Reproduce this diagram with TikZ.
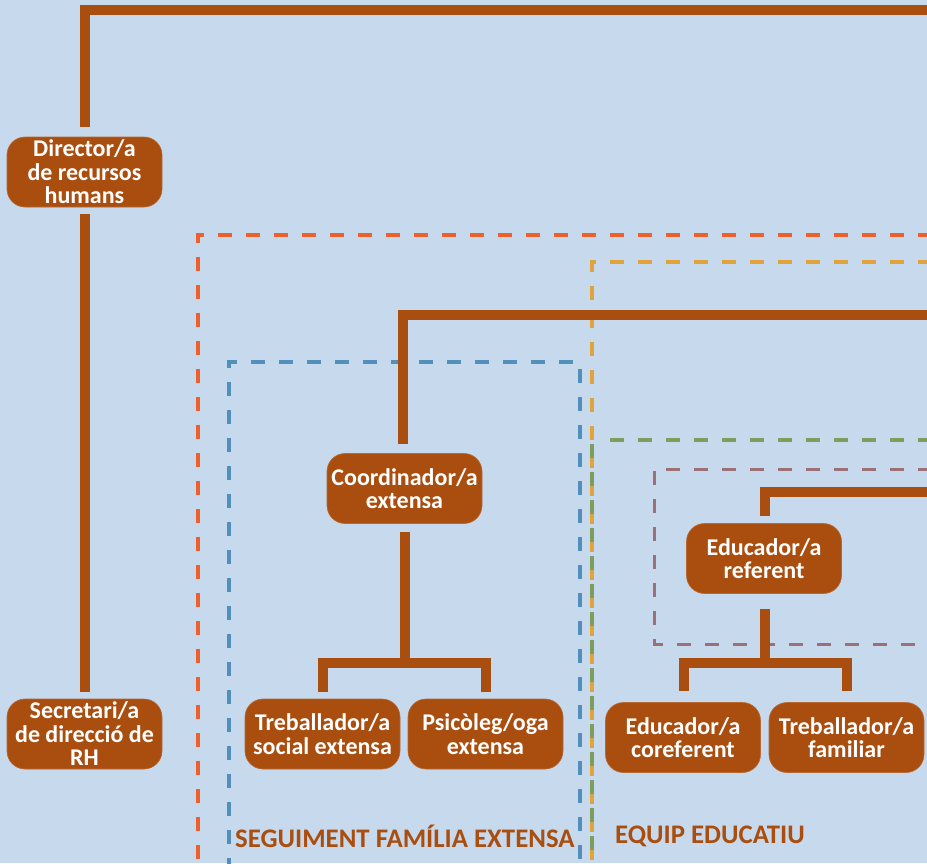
\documentclass[tikz,border=0pt]{standalone}
\usepackage{fontspec}
\setmainfont{Carlito}
\definecolor{bg}{HTML}{C7D9ED}
\definecolor{brn}{HTML}{AA4E0F}
\definecolor{orng}{HTML}{EE5F2B}
\definecolor{blu}{HTML}{528FBA}
\definecolor{yel}{HTML}{E2A43A}
\definecolor{grn}{HTML}{7E9E5D}
\definecolor{mauv}{HTML}{9B7077}
\begin{document}
\begin{tikzpicture}[x=1pt,y=-1pt,
  box/.style={draw=brn!85!white, line width=0.6pt, fill=brn, rounded corners=18pt,
    minimum width=155pt, minimum height=70pt, inner sep=0pt, align=center,
    text=white, font=\bfseries\fontsize{24}{23.5}\selectfont},
  conn/.style={draw=brn, line width=10pt, line join=miter},
  dsh/.style={line width=#1, dash pattern=on 14pt off 14pt},
  grp/.style={text=brn, font=\bfseries\fontsize{26.8}{28}\selectfont, anchor=west, inner sep=0pt}
]
\useasboundingbox (0,0) rectangle (927,863);
\clip (0,0) rectangle (927,863);
\fill[bg] (0,0) rectangle (927,863);

% dashed groups
\draw[dsh=4pt, orng] (960,235) -- (198,235) -- (198,900);
\draw[dsh=3.5pt, blu] (229,900) -- (229,362) -- (580,362) -- (580,900);
\draw[dsh=3.5pt, yel] (960,262) -- (592,262) -- (592,900);
\draw[dsh=3.5pt, grn] (960,440) -- (597,440);
\draw[line width=3.5pt, grn, dash pattern=on 14pt off 14pt, dash phase=24pt] (592,440) -- (592,900);
\draw[dsh=3pt, mauv] (960,469) -- (654,469) -- (654,644) -- (960,644);

% nodes
\node[box] (dir) at (84.5,172) {Director/a\\de recursos\\humans};
\node[box] (sec) at (84.5,734) {Secretari/a\\de direcció de\\RH};
\node[box] (coord) at (404.5,488.5) {Coordinador/a\\extensa};
\node[box] (tse) at (322.5,734) {Treballador/a\\social extensa};
\node[box] (psi) at (485.5,734) {Psicòleg/oga\\extensa};
\node[box] (eref) at (764,558.5) {Educador/a\\referent};
\node[box] (ecor) at (683,737.5) {Educador/a\\coreferent};
\node[box] (tfam) at (846.5,737.5) {Treballador/a\\familiar};

% free ends off the right edge
\coordinate (topR) at (960,10);
\coordinate (midR) at (960,315);
\coordinate (eduR) at (960,492);
\coordinate (cbar) at (404.5,663);
\coordinate (ebar) at (765,663);

% connectors
\draw[conn] ([yshift=10pt]dir.north) |- (topR);
\draw[conn] ([yshift=-7pt]dir.south) -- ([yshift=7pt]sec.north);
\draw[conn] ([yshift=9pt,xshift=-1.5pt]coord.north) |- (midR);
\draw[conn] ([yshift=-8pt]coord.south) -- (cbar);
\draw[conn] ([yshift=7pt]tse.north) |- (cbar) -| ([yshift=7pt]psi.north);
\draw[conn] ([yshift=7pt,xshift=1pt]eref.north) |- (eduR);
\draw[conn] ([yshift=-15pt,xshift=1pt]eref.south) -- (ebar);
\draw[conn] ([yshift=11pt,xshift=1pt]ecor.north) |- (ebar) -| ([yshift=11pt]tfam.north);

% group labels
\node[grp] (lblA) at (235,836) {SEGUIMENT FAMÍLIA EXTENSA};
\node[grp] (lblB) at (615,836) {EQUIP EDUCATIU};
\end{tikzpicture}
\end{document}
